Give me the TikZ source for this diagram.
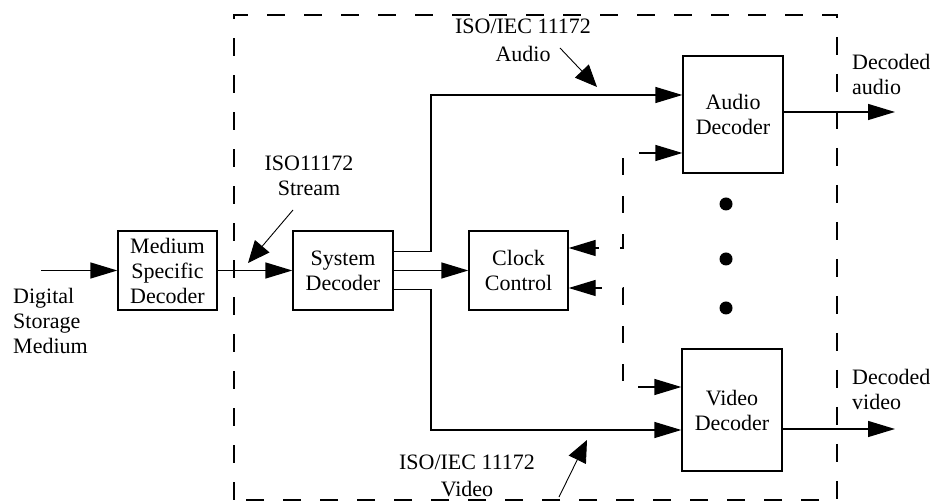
\documentclass[tikz,border=0pt]{standalone}
\usepackage{fontspec}
\setmainfont{Liberation Serif}
\usetikzlibrary{arrows.meta}

\begin{document}
\begin{tikzpicture}[x=1pt,y=1pt,
  block/.style={draw,line width=1.3pt,align=center,inner sep=0pt,font=\fontsize{22}{25}\selectfont},
  lbl/.style={align=center,inner sep=0pt,font=\fontsize{22}{25}\selectfont},
  flow/.style={line width=1.3pt,-{Triangle[length=27pt,width=16pt]}},
  sig/.style={line width=1.3pt,dash pattern=on 17pt off 21pt,{Triangle[length=27pt,width=16pt,fill=black]}-{Triangle[length=27pt,width=16pt,fill=black]}},
  pointer/.style={line width=0.9pt,-{Triangle[length=22pt,width=19pt]}},
  frame/.style={line width=1.3pt,dash pattern=on 18pt off 19pt}]
\useasboundingbox (0,0) rectangle (940,503);

% Dashed frame round the decoder
\draw[frame] (234,3) rectangle (837,488);

% Blocks
\node[block,minimum width=99pt,minimum height=79pt] (msd) at (167.5,232.5) {Medium\\Specific\\Decoder};
\node[block,minimum width=100pt,minimum height=79pt] (sysdec) at (343,232.5) {System\\Decoder};
\node[block,minimum width=99pt,minimum height=79pt] (clock) at (518.5,232.5) {Clock\\Control};
\node[block,minimum width=100pt,minimum height=117pt] (audio) at (733,388.5) {Audio\\Decoder};
\node[block,minimum width=100pt,minimum height=122pt] (video) at (732,93) {Video\\Decoder};

% Free ends and corners
\coordinate (dsm) at (41,232.5);
\coordinate (busA) at (431,408);
\coordinate (busV) at (431,73);
\coordinate (aout) at (895,391);
\coordinate (vout) at (895,74);
\coordinate (ca) at (623,255);
\coordinate (cv) at (623,215);

% Main data path
\draw[flow] (dsm) -- (msd.west);
\draw[flow] (msd.east) -- (sysdec.west);
\draw[flow] (sysdec.east) -- (clock.west);
\draw[flow] ([yshift=19pt]sysdec.east) -| (busA) -- (busA -| audio.west);
\draw[flow] ([yshift=-19pt]sysdec.east) -| (busV) -- (busV -| video.west);
\draw[flow] (audio.east |- aout) -- (aout);
\draw[flow] (video.east |- vout) -- (vout);

% Clock signals
\draw[sig] ([yshift=-38.5pt]audio.west) -| (ca) -- (clock.east |- ca);
\draw[sig] ([yshift=23pt]video.west) -| (cv) -- (clock.east |- cv);

% Dots between the decoders
\fill (726,299) circle (6.5);
\fill (726,244) circle (6.5);
\fill (726,195) circle (6.5);

% Labels
\node[lbl,align=left,anchor=west] (dsmlbl) at (13,182) {Digital\\Storage\\Medium};
\node[lbl] (streamlbl) at (309,327.5) {ISO11172\\Stream};
\node[lbl,font=\fontsize{22}{28}\selectfont] (audiolbl) at (523,463) {ISO/IEC 11172\\Audio};
\node[lbl,font=\fontsize{22}{27}\selectfont] (videolbl) at (467,27) {ISO/IEC 11172\\Video};
\node[lbl,align=left,anchor=west] (aoutlbl) at (852,428.5) {Decoded\\audio};
\node[lbl,align=left,anchor=west] (voutlbl) at (852,113.5) {Decoded\\video};

% Pointers from the labels
\coordinate (streamfrom) at (293,293);
\coordinate (streamtip) at (248,240);
\coordinate (audiofrom) at (560,455);
\coordinate (audiotip) at (597,416);
\coordinate (videofrom) at (559,6);
\coordinate (videotip) at (587,63);
\draw[pointer] (streamfrom) -- (streamtip);
\draw[pointer] (audiofrom) -- (audiotip);
\draw[pointer] (videofrom) -- (videotip);
\end{tikzpicture}
\end{document}
